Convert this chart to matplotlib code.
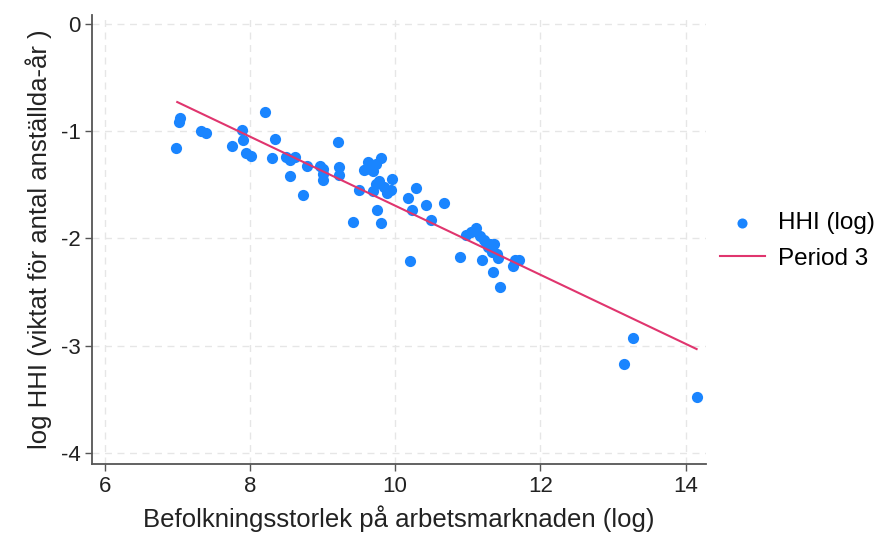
import numpy as np
import matplotlib
matplotlib.use('Agg')
import matplotlib.pyplot as plt

plt.rcParams['font.family'] = ['Liberation Sans', 'DejaVu Sans']
plt.rcParams['axes.unicode_minus'] = False

# log befolkning och log HHI per arbetsmarknad
log_pop = [6.98, 7.02, 7.04, 7.33, 7.40, 7.75, 7.89, 7.91, 7.94, 8.02,
           8.21, 8.31, 8.35, 8.50, 8.55, 8.55, 8.62, 8.73, 8.78, 8.96,
           9.01, 9.01, 9.01, 9.21, 9.23, 9.23, 9.42, 9.50, 9.60, 9.62,
           9.66, 9.70, 9.73, 9.73, 9.75, 9.78, 9.80, 9.80, 9.85, 9.89,
           9.94, 9.96, 10.18, 10.20, 10.23, 10.29, 10.43, 10.49, 10.67, 10.89,
           10.97, 11.04, 11.11, 11.17, 11.20, 11.22, 11.25, 11.28, 11.31, 11.35,
           11.33, 11.36, 11.40, 11.41, 11.45, 11.62, 11.65, 11.71, 13.15, 13.28,
           14.16, 9.69, 9.57]
log_hhi = [-1.154, -0.913, -0.875, -1.00, -1.02, -1.14, -0.987, -1.083, -1.205, -1.228,
           -0.827, -1.253, -1.077, -1.244, -1.266, -1.417, -1.244, -1.60, -1.324, -1.324,
           -1.356, -1.452, -1.404, -1.10, -1.338, -1.413, -1.848, -1.552, -1.349, -1.29,
           -1.333, -1.372, -1.308, -1.493, -1.737, -1.468, -1.255, -1.856, -1.52, -1.58,
           -1.55, -1.449, -1.625, -2.21, -1.737, -1.53, -1.685, -1.824, -1.669, -2.173,
           -1.97, -1.94, -1.905, -1.98, -2.199, -2.01, -2.045, -2.083, -2.051, -2.311,
           -2.125, -2.05, -2.141, -2.18, -2.452, -2.253, -2.205, -2.199, -3.167, -2.926,
           -3.48, -1.562, -1.362]

# anpassad linje, period 3
fit_x = [7.0, 14.15]
fit_y = [-0.73, -3.03]

x_ticks = [6, 8, 10, 12, 14]
y_ticks = [0, -1, -2, -3, -4]

fig = plt.figure(figsize=(8.87, 5.37), dpi=100)
ax = fig.add_axes([0.104, 0.136, 0.692, 0.836])

ax.scatter(log_pop, log_hhi, s=65, color='#1a85ff', linewidths=0, label='HHI (log)', zorder=3)
ax.plot(fit_x, fit_y, color='#e0356e', lw=1.5, label='Period 3', zorder=4)

ax.set_xlim(5.83, 14.28)
ax.set_ylim(-4.1, 0.08)
ax.set_xticks(x_ticks)
ax.set_yticks(y_ticks)
ax.grid(True, color='#e6e6e6', linestyle=(0, (5, 4)), lw=1)
ax.set_axisbelow(True)

for s in ['top', 'right']:
    ax.spines[s].set_visible(False)
for s in ['left', 'bottom']:
    ax.spines[s].set_color('#555555')
    ax.spines[s].set_linewidth(1.3)
ax.tick_params(colors='#555555', length=5, width=1, labelsize=16, labelcolor='#222222')

ax.set_xlabel('Befolkningsstorlek på arbetsmarknaden (log)', fontsize=18.5, color='#222222', labelpad=6)
ax.set_ylabel('log HHI (viktat för antal anställda-år )', fontsize=18.5, color='#222222', labelpad=6)

ax.legend(loc='center left', bbox_to_anchor=(1.022, 0.497), frameon=False, fontsize=17.5,
          handlelength=1.85, handletextpad=0.55, labelspacing=0.55, markerscale=0.9,
          borderaxespad=0, borderpad=0)

fig.savefig('out.png', dpi=100)
